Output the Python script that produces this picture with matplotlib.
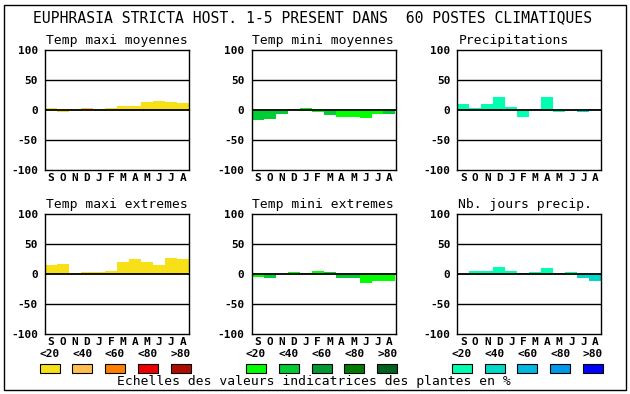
import matplotlib.pyplot as plt
from matplotlib.patches import Rectangle

plt.rcParams['font.family'] = 'DejaVu Sans Mono'
plt.rcParams['axes.unicode_minus'] = False

W, H = 630, 394

titre = "EUPHRASIA STRICTA HOST. 1-5 PRESENT DANS  60 POSTES CLIMATIQUES"
mois = ['S', 'O', 'N', 'D', 'J', 'F', 'M', 'A', 'M', 'J', 'J', 'A']
seuils = ['<20', '<40', '<60', '<80', '>80']

# ecarts (valeurs indicatrices) par mois
tmax_moy = [3, -4, 2, 3, 2, 3, 7, 7, 14, 15, 14, 12]
tmin_moy = [-16, -15, -6, 2, 3, -4, -8, -11, -11, -13, -6, -6]
precip = [10, 3, 10, 22, 5, -11, 2, 22, -3, 0, -4, 2]
tmax_ext = [16, 17, 2, 4, 4, 5.5, 20.5, 25.5, 20.5, 15.5, 27, 25.5]
tmin_ext = [-4, -5.5, 0, 4, 2, 5.5, 4, -5.5, -7, -14, -10.5, -12]
jours_precip = [-2, 5.5, 5.5, 12, 5.5, 2, 4, 10.5, 2, 4, -7, -12]

# classe de couleur de chaque barre (0 = <20 ... 4 = >80)
cl_tmax_moy = [0, 0, 0, 1, 0, 0, 0, 0, 0, 0, 0, 0]
cl_tmin_moy = [1, 1, 1, 0, 0, 0, 1, 0, 0, 0, 0, 1]
cl_precip = [0, 0, 0, 0, 0, 0, 0, 0, 0, 0, 1, 0]
cl_tmax_ext = [0] * 12
cl_tmin_ext = [0, 1, 0, 0, 0, 0, 1, 1, 1, 0, 0, 0]
cl_jours = [0, 0, 0, 0, 0, 0, 0, 0, 0, 0, 1, 1]

rouges = ['#F8E018', '#FFBF50', '#FF8000', '#EE0000', '#B00C00']
verts = ['#00FF00', '#00CC33', '#009A30', '#007A00', '#006020']
bleus = ['#00FFB0', '#00D8C8', '#00B8E0', '#0098E8', '#0000FF']

panneaux = [
    ("Temp maxi moyennes", tmax_moy, cl_tmax_moy, rouges, 45, 50),
    ("Temp mini moyennes", tmin_moy, cl_tmin_moy, verts, 251.5, 50),
    ("Precipitations", precip, cl_precip, bleus, 457.3, 50),
    ("Temp maxi extremes", tmax_ext, cl_tmax_ext, rouges, 45, 214.3),
    ("Temp mini extremes", tmin_ext, cl_tmin_ext, verts, 251.5, 214.3),
    ("Nb. jours precip.", jours_precip, cl_jours, bleus, 457.3, 214.3),
]

fig = plt.figure(figsize=(W / 100, H / 100), dpi=100)


def fx(x):
    return x / W


def fy(y):
    return 1 - y / H


# cadre general
fig.patches.append(Rectangle((fx(4), fy(390)), fx(622), 385 / H, transform=fig.transFigure,
                             fill=False, edgecolor='black', linewidth=1.0))

fig.text(fx(313), fy(18), titre, ha='center', va='center', fontsize=10.6)

for nom, valeurs, classes, palette, x0, y0 in panneaux:
    ax = fig.add_axes([fx(x0), fy(y0 + 120), 144 / W, 120 / H])
    couleurs = [palette[c] for c in classes]
    ax.bar(range(12), valeurs, width=1.0, color=couleurs, linewidth=0, zorder=2)
    ax.axhline(0, color='black', linewidth=1.3, zorder=3)
    for g in (50, -50):
        ax.axhline(g, color='black', linewidth=1.0, zorder=1)
    ax.set_xlim(-0.5, 11.5)
    ax.set_ylim(-100, 100)
    ax.set_yticks([100, 50, 0, -50, -100])
    ax.set_yticklabels(['100', '50', '0', '-50', '-100'], fontweight='bold', fontsize=8)
    ax.set_xticks(range(12))
    ax.set_xticklabels(mois, fontweight='bold', fontsize=8)
    ax.tick_params(length=0, axis='y', pad=5)
    ax.tick_params(length=0, axis='x', pad=2)
    for s in ax.spines.values():
        s.set_linewidth(1.0)
    fig.text(fx(x0 + 1), fy(y0 - 6), nom, ha='left', va='baseline', fontsize=9.4)

    # legende des classes sous la rangee du bas
    if y0 > 100:
        for i, lab in enumerate(seuils):
            cx = x0 + 4.5 + 32.8 * i
            fig.text(fx(cx), fy(354), lab, ha='center', va='center', fontsize=8, fontweight='bold')
            fig.patches.append(Rectangle((fx(cx - 10), fy(373)), 20 / W, 9 / H,
                                         transform=fig.transFigure, facecolor=palette[i],
                                         edgecolor='black', linewidth=0.8))

fig.text(fx(314), fy(382), "Echelles des valeurs indicatrices des plantes en %",
         ha='center', va='center', fontsize=9.4)

plt.savefig("out.png", dpi=100)
